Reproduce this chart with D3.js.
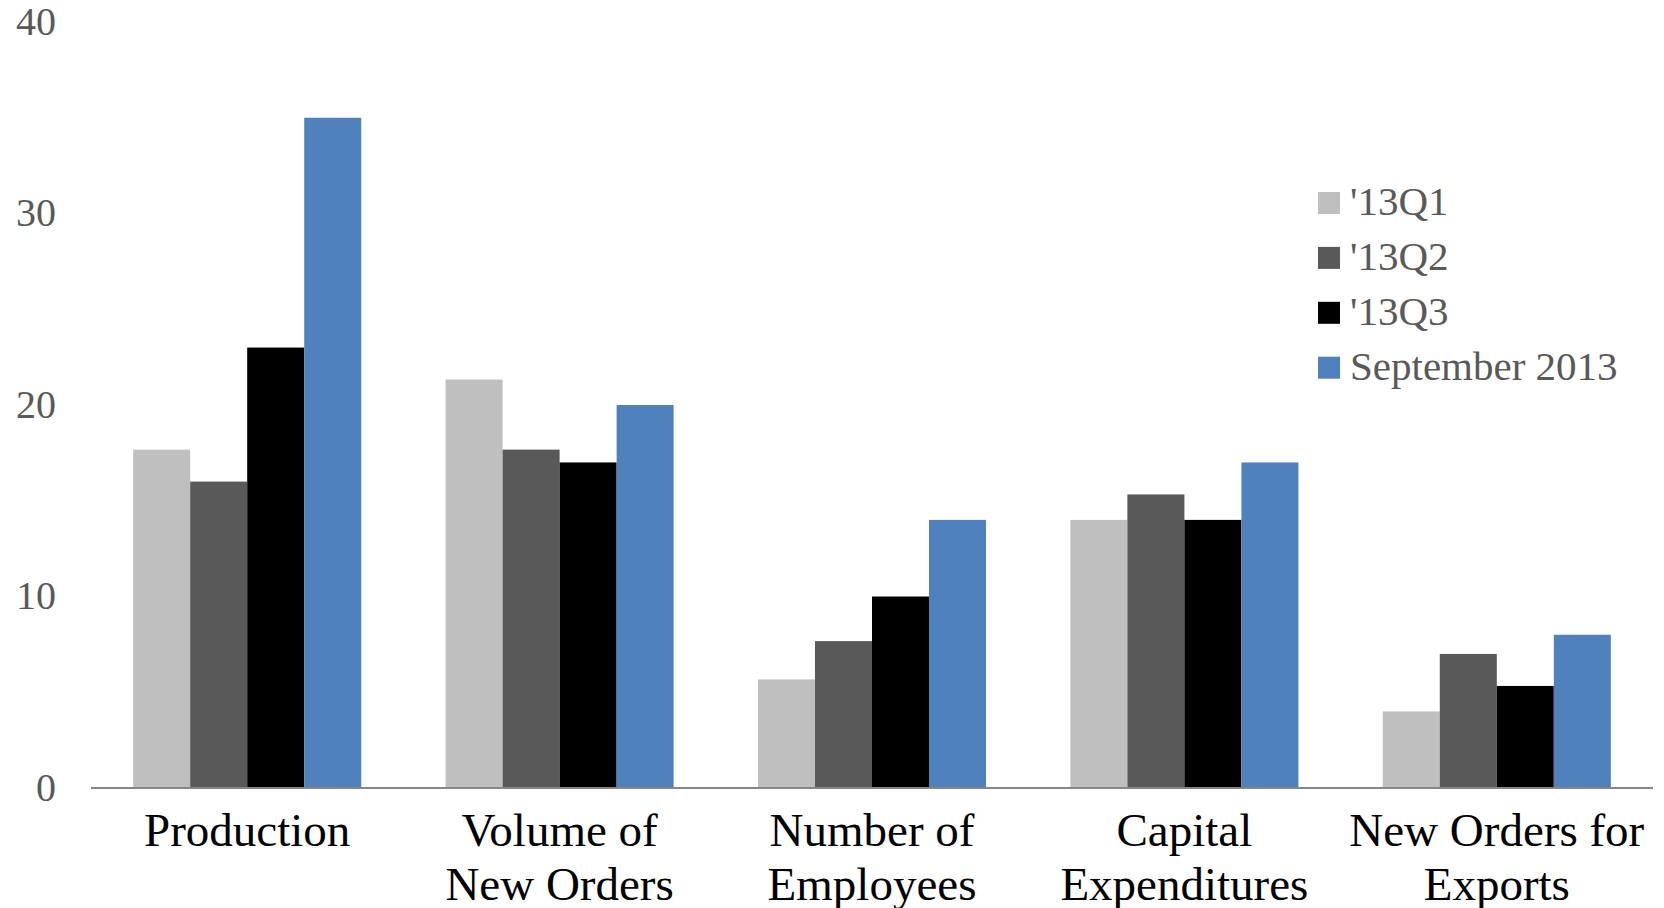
<!DOCTYPE html>
<html>
<head>
<meta charset="utf-8">
<script src="https://cdn.jsdelivr.net/npm/d3@7"></script>
<style>
  body { margin: 0; background: #fff; }
  svg { display: block; }
  text { font-family: 'Liberation Serif', 'DejaVu Serif', serif; }
</style>
</head>
<body>
<svg class="stage" width="1664" height="908"></svg>
<script>
  var categories = [
    ['Production'],
    ['Volume of', 'New Orders'],
    ['Number of', 'Employees'],
    ['Capital', 'Expenditures'],
    ['New Orders for', 'Exports']
  ];
  var seriesNames = ["'13Q1", "'13Q2", "'13Q3", 'September 2013'];
  var q1 = [17.67, 21.33, 5.67, 14, 4];
  var q2 = [16, 17.67, 7.67, 15.33, 7];
  var q3 = [23, 17, 10, 14, 5.33];
  var sep = [35, 20, 14, 17, 8];
  var yTicks = [0, 10, 20, 30, 40];
  var colors = ['#BFBFBF', '#595959', '#000000', '#4F81BD'];

  var series = [q1, q2, q3, sep];

  var svg = d3.select('svg.stage');

  // plot edges (avoid the name "top", it is window.top)
  var plotLeft = 91, plotRight = 1653, plotTop = 22, plotBottom = 788;

  var x0 = d3.scaleBand()
    .domain(d3.range(categories.length))
    .range([plotLeft, plotRight])
    .paddingInner(0.27)
    .paddingOuter(0.135);

  var x1 = d3.scaleBand()
    .domain(d3.range(series.length))
    .range([0, x0.bandwidth()]);

  var y = d3.scaleLinear()
    .domain([0, 40])
    .range([plotBottom, plotTop]);

  // bars
  var groups = svg.append('g')
    .selectAll('g')
    .data(categories)
    .enter().append('g')
    .attr('transform', function (d, i) {
      return 'translate(' + x0(i) + ',0)';
    });

  groups.selectAll('rect')
    .data(function (d, i) {
      return series.map(function (s, j) {
        return { s: j, v: s[i] };
      });
    })
    .enter().append('rect')
    .attr('x', function (d) { return x1(d.s); })
    .attr('width', x1.bandwidth())
    .attr('y', function (d) { return y(d.v); })
    .attr('height', function (d) { return y(0) - y(d.v); })
    .attr('fill', function (d) { return colors[d.s]; });

  // y axis labels (no line)
  var yAxis = d3.axisLeft(y).tickValues(yTicks).tickSize(0).tickPadding(0);
  var yg = svg.append('g')
    .attr('transform', 'translate(56,0)')
    .call(yAxis);
  yg.select('.domain').remove();
  yg.selectAll('text')
    .attr('font-family', "'Liberation Serif', serif")
    .attr('font-size', 40)
    .attr('fill', '#595959')
    .attr('dy', '0.3em');

  // x axis line
  svg.append('line')
    .attr('x1', plotLeft)
    .attr('x2', plotRight)
    .attr('y1', y(0))
    .attr('y2', y(0))
    .attr('stroke', '#868686')
    .attr('stroke-width', 2);

  // category labels
  var labels = svg.append('g')
    .selectAll('text')
    .data(categories)
    .enter().append('text')
    .attr('text-anchor', 'middle')
    .attr('font-size', 47)
    .attr('fill', '#000');

  labels.selectAll('tspan')
    .data(function (d, i) {
      return d.map(function (line, k) {
        return { line: line, k: k, i: i };
      });
    })
    .enter().append('tspan')
    .attr('x', function (d) { return x0(d.i) + x0.bandwidth() / 2; })
    .attr('y', function (d) { return 846 + d.k * 54; })
    .text(function (d) { return d.line; });

  // legend
  var legend = svg.append('g')
    .attr('transform', 'translate(1318,192)');

  var item = legend.selectAll('g')
    .data(seriesNames)
    .enter().append('g')
    .attr('transform', function (d, i) {
      return 'translate(0,' + (i * 54.9) + ')';
    });

  item.append('rect')
    .attr('width', 22)
    .attr('height', 22)
    .attr('fill', function (d, i) { return colors[i]; });

  item.append('text')
    .attr('x', 32)
    .attr('y', 11)
    .attr('dy', '0.3em')
    .attr('font-size', 41)
    .attr('fill', '#595959')
    .text(function (d) { return d; });
</script>
</body>
</html>
